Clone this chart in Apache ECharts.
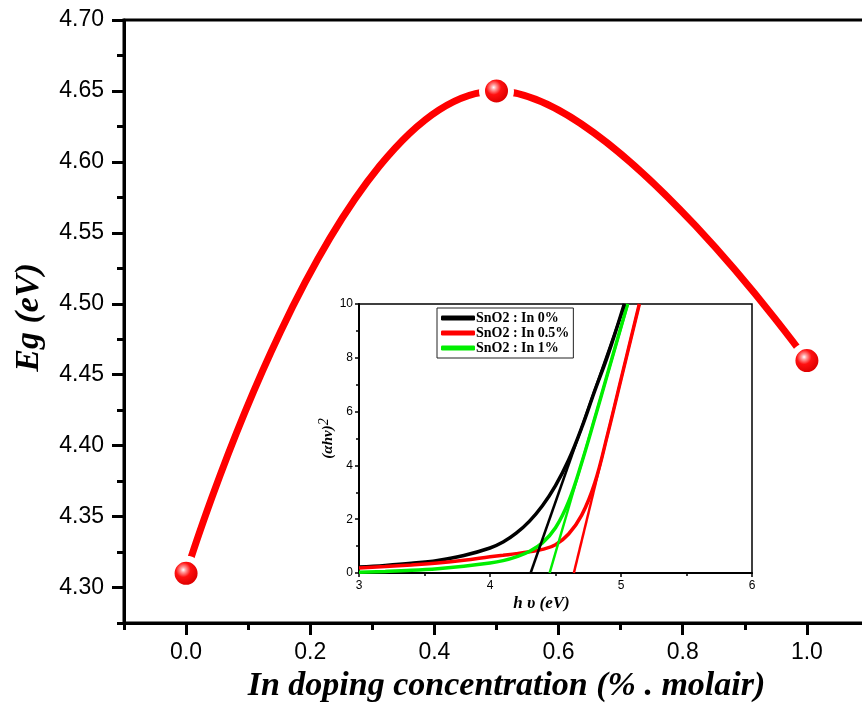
<!DOCTYPE html>
<html>
<head>
<meta charset="utf-8">
<script src="https://cdn.jsdelivr.net/npm/echarts@6/dist/echarts.min.js"></script>
<style>html,body{margin:0;padding:0;background:#fff}#c{width:862px;height:711px}</style>
</head>
<body>
<div id="c"></div>
<script>
// ---- main chart data ----
const dopingX = [0.0, 0.5, 1.0];
const bandGapEg = [4.31, 4.65, 4.46];
const xTickValues = [0.0, 0.2, 0.4, 0.6, 0.8, 1.0];
const yTickValues = [4.30, 4.35, 4.40, 4.45, 4.50, 4.55, 4.60, 4.65, 4.70];

// ---- inset (Tauc plot) data ----
const hv0 = [3.0, 3.2, 3.4, 3.6, 3.8, 4.0, 4.1, 4.2, 4.3, 4.4, 4.5, 4.6, 4.7, 4.8, 4.9, 5.025];
const a0  = [0.22, 0.28, 0.36, 0.47, 0.65, 0.93, 1.15, 1.48, 1.92, 2.50, 3.25, 4.20, 5.40, 6.78, 8.10, 10.0];
const hv05 = [3.0, 3.2, 3.4, 3.6, 3.8, 4.0, 4.1, 4.2, 4.3, 4.4, 4.5, 4.6, 4.7, 4.8, 4.9, 5.0, 5.14];
const a05  = [0.19, 0.24, 0.30, 0.37, 0.47, 0.60, 0.66, 0.72, 0.79, 0.88, 1.05, 1.45, 2.15, 3.35, 5.20, 7.20, 10.0];
const hv1 = [3.0, 3.2, 3.4, 3.6, 3.8, 4.0, 4.1, 4.2, 4.3, 4.4, 4.5, 4.6, 4.7, 4.8, 4.9, 5.05];
const a1  = [0.03, 0.06, 0.10, 0.16, 0.25, 0.37, 0.46, 0.60, 0.80, 1.12, 1.68, 2.65, 4.10, 5.75, 7.45, 10.0];
// tangent (extrapolation) lines
const fit0X = [4.31, 5.03],  fit0Y = [0, 10];
const fit05X = [4.64, 5.14], fit05Y = [0, 10];
const fit1X = [4.455, 5.053], fit1Y = [0, 10];
const legendNames = ['SnO2 : In 0%', 'SnO2 : In 0.5%', 'SnO2 : In 1%'];

const zip = (xs, ys) => xs.map((x, i) => [x, ys[i]]);

const chart = echarts.init(document.getElementById('c'), null, {renderer: 'canvas'});
const sans = '"Liberation Sans", Arial, sans-serif';
const serif = '"Liberation Serif", "Times New Roman", serif';

const sphere = {
  type: 'radial', x: 0.42, y: 0.40, r: 0.42,
  colorStops: [
    {offset: 0, color: '#ffffff'},
    {offset: 0.18, color: '#ff9c9c'},
    {offset: 0.5, color: '#ff1010'},
    {offset: 1, color: '#e00000'}
  ]
};

const option = {
  animation: false,
  backgroundColor: '#fff',
  grid: [
    {left: 124, top: 20, right: -7, bottom: 88, outerBoundsMode: 'none', containLabel: false, show: true, borderColor: '#000', borderWidth: 3, backgroundColor: 'transparent'},
    {left: 124, top: 20, right: -7, bottom: 88, outerBoundsMode: 'none', containLabel: false},
    {left: 359, top: 304, width: 393, height: 269, outerBoundsMode: 'none', containLabel: false, show: true, borderColor: '#000', borderWidth: 1.5, backgroundColor: '#fff'}
  ],
  xAxis: [
    {
      gridIndex: 0, type: 'value', min: -0.1, max: 1.1,
      axisLine: {onZero: false, lineStyle: {color: '#000', width: 3}},
      axisTick: {customValues: xTickValues, length: 12, lineStyle: {color: '#000', width: 3}},
      axisLabel: {customValues: xTickValues, formatter: v => v.toFixed(1), fontFamily: sans, fontSize: 23, color: '#000', margin: 18},
      splitLine: {show: false},
      name: 'In doping concentration (% . molair)', nameLocation: 'middle', nameGap: 45,
      nameTextStyle: {fontFamily: serif, fontWeight: 'bold', fontStyle: 'italic', fontSize: 34, color: '#000', padding: [0, 0, 0, 20]}
    },
    {
      gridIndex: 1, type: 'value', min: -0.1, max: 1.1, interval: 0.1,
      axisLine: {show: false, onZero: false},
      axisTick: {length: 7, lineStyle: {color: '#000', width: 3}},
      axisLabel: {show: false}, splitLine: {show: false}
    },
    {
      gridIndex: 2, type: 'value', min: 3, max: 6, interval: 1,
      axisLine: {onZero: false, lineStyle: {color: '#000', width: 2}},
      axisTick: {length: 4, lineStyle: {color: '#000', width: 1.5}},
      minorTick: {show: true, splitNumber: 2, length: 3, lineStyle: {color: '#000', width: 1.5}},
      axisLabel: {fontFamily: sans, fontSize: 12, color: '#000', margin: 7},
      splitLine: {show: false},
      name: 'h υ (eV)', nameLocation: 'middle', nameGap: 22,
      nameTextStyle: {fontFamily: serif, fontWeight: 'bold', fontStyle: 'italic', fontSize: 17, color: '#000', padding: [0, 28, 0, 0]}
    }
  ],
  yAxis: [
    {
      gridIndex: 0, type: 'value', min: 4.275, max: 4.70,
      axisLine: {onZero: false, lineStyle: {color: '#000', width: 3}},
      axisTick: {customValues: yTickValues, length: 12, lineStyle: {color: '#000', width: 3}},
      axisLabel: {customValues: yTickValues, formatter: v => v.toFixed(2), fontFamily: sans, fontSize: 23, color: '#000', margin: 20},
      splitLine: {show: false},
      name: 'Eg (eV)', nameLocation: 'middle', nameGap: 78, nameRotate: 90,
      nameTextStyle: {fontFamily: serif, fontWeight: 'bold', fontStyle: 'italic', fontSize: 34, color: '#000', padding: [0, 0, 0, 8]}
    },
    {
      gridIndex: 1, type: 'value', min: 4.275, max: 4.70, interval: 0.025,
      axisLine: {show: false, onZero: false},
      axisTick: {length: 7, lineStyle: {color: '#000', width: 3}},
      axisLabel: {show: false}, splitLine: {show: false}
    },
    {
      gridIndex: 2, type: 'value', min: 0, max: 10, interval: 2,
      axisLine: {onZero: false, lineStyle: {color: '#000', width: 2}},
      axisTick: {length: 4, lineStyle: {color: '#000', width: 1.5}},
      minorTick: {show: true, splitNumber: 2, length: 3, lineStyle: {color: '#000', width: 1.5}},
      axisLabel: {fontFamily: sans, fontSize: 12, color: '#000', margin: 6},
      splitLine: {show: false},
      name: '{a|(αhν)}{b|2}', nameLocation: 'middle', nameGap: 15, nameRotate: 90,
      nameTextStyle: {
        rich: {
          a: {fontFamily: serif, fontWeight: 'bold', fontStyle: 'italic', fontSize: 15, color: '#000'},
          b: {fontFamily: serif, fontStyle: 'italic', fontSize: 14, color: '#000', verticalAlign: 'top', padding: [0, 0, 7, 0]}
        }
      }
    }
  ],
  legend: {
    data: legendNames,
    orient: 'vertical', left: 437, top: 308,
    backgroundColor: '#fff', borderColor: '#222', borderWidth: 1,
    padding: [3, 4, 3, 4], itemGap: 1,
    itemWidth: 34, itemHeight: 5, icon: 'roundRect',
    textStyle: {fontFamily: serif, fontWeight: 'bold', fontSize: 14, color: '#000', padding: [0, 0, 0, -4]}
  },
  series: [
    {
      type: 'line', xAxisIndex: 0, yAxisIndex: 0, z: 5,
      data: zip(dopingX, bandGapEg), smooth: 0.45,
      lineStyle: {color: '#ff0000', width: 7, cap: 'round'},
      symbol: 'circle', symbolSize: 29,
      itemStyle: {color: sphere, borderColor: '#fff', borderWidth: 6}
    },
    {name: legendNames[0], type: 'line', xAxisIndex: 2, yAxisIndex: 2, data: zip(hv0, a0), smooth: 0.4, symbol: 'none',
      lineStyle: {color: '#000', width: 3.5}, itemStyle: {color: '#000'}},
    {name: legendNames[1], type: 'line', xAxisIndex: 2, yAxisIndex: 2, data: zip(hv05, a05), smooth: 0.4, symbol: 'none',
      lineStyle: {color: '#ff0000', width: 3.5}, itemStyle: {color: '#ff0000'}},
    {name: legendNames[2], type: 'line', xAxisIndex: 2, yAxisIndex: 2, data: zip(hv1, a1), smooth: 0.4, symbol: 'none',
      lineStyle: {color: '#00ee00', width: 3.5}, itemStyle: {color: '#00ee00'}},
    {type: 'line', xAxisIndex: 2, yAxisIndex: 2, data: zip(fit0X, fit0Y), symbol: 'none', lineStyle: {color: '#000', width: 2.5}},
    {type: 'line', xAxisIndex: 2, yAxisIndex: 2, data: zip(fit05X, fit05Y), symbol: 'none', lineStyle: {color: '#ff0000', width: 2.5}},
    {type: 'line', xAxisIndex: 2, yAxisIndex: 2, data: zip(fit1X, fit1Y), symbol: 'none', lineStyle: {color: '#00ee00', width: 2.5}}
  ]
};
chart.setOption(option);
</script>
</body>
</html>
